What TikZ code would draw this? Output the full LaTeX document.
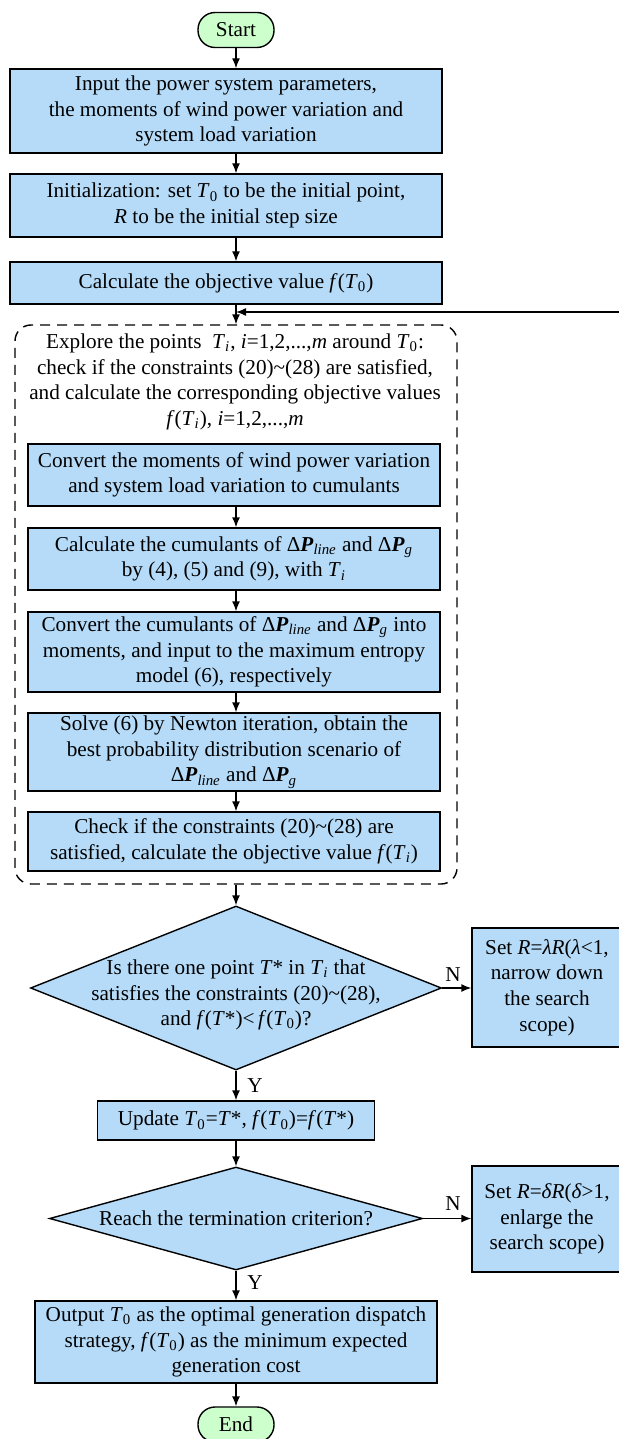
\documentclass[tikz,border=0pt]{standalone}
\usepackage{fontspec}
\setmainfont{Liberation Serif}
\usetikzlibrary{shapes.geometric,arrows.meta,calc}
\definecolor{boxblue}{RGB}{181,219,248}
\definecolor{termgreen}{RGB}{204,255,204}
\newcommand{\Ti}{\textit{T}\textsubscript{\textit{i}}}
\newcommand{\Tz}{\textit{T}\textsubscript{0}}
\newcommand{\dPl}{Δ\textbf{\textit{P}}\textsubscript{\textit{line}}}
\newcommand{\dPg}{Δ\textbf{\textit{P}}\textsubscript{\textit{g}}}
\begin{document}
\begin{tikzpicture}[x=0.5pt,y=-0.5pt,
  every node/.style={font=\fontsize{10.6}{12.8}\selectfont},
  proc/.style={draw, fill=boxblue, line width=0.7pt, align=center, inner sep=1pt},
  term/.style={draw, fill=termgreen, rounded corners=8.5pt, line width=0.7pt, minimum width=38pt, minimum height=17.5pt, inner sep=1pt},
  dec/.style={draw, fill=boxblue, diamond, line width=0.7pt, inner sep=0pt},
  arr/.style={-{Latex[length=5pt,width=4pt]}, line width=0.7pt},
  lbl/.style={inner sep=0pt, align=center}
]
\useasboundingbox (0,0) rectangle (619,1439);

\node[term] (start) at (236,30) {Start};
\node[proc, minimum width=216pt, minimum height=42pt] (inp) at (226,111) {Input the power system parameters,\\the moments of wind power variation and\\system load variation};
\node[proc, minimum width=216pt, minimum height=31.5pt] (init) at (226,205.5) {Initialization: set \Tz{} to be the initial point,\\\textit{R} to be the initial step size};
\node[proc, minimum width=216pt, minimum height=21pt] (obj) at (226,283) {Calculate the objective value \textit{f}(\Tz)};
\coordinate (fb) at (630,312);

\node[draw, rounded corners=8pt, line width=0.7pt, dash pattern=on 5pt off 3.5pt, minimum width=221pt, minimum height=279.5pt] (loop) at (236,604.5) {};
\node[lbl] (explore) at (235,382) {Explore the points\ \ \Ti, \textit{i}=1,2,...,\textit{m} around \Tz:\\check if the constraints (20)\textasciitilde(28) are satisfied,\\and calculate the corresponding objective values\\\textit{f}(\Ti), \textit{i}=1,2,...,\textit{m}};

\node[proc, minimum width=206pt, minimum height=31pt] (c1) at (234,475) {Convert the moments of wind power variation\\and system load variation to cumulants};
\node[proc, minimum width=206pt, minimum height=31pt] (c2) at (234,559) {Calculate the cumulants of \dPl{} and \dPg\\by (4), (5) and (9), with \Ti};
\node[proc, minimum width=206pt, minimum height=40pt] (c3) at (234,652) {Convert the cumulants of \dPl{} and \dPg{} into\\moments, and input to the maximum entropy\\model (6), respectively};
\node[proc, minimum width=206pt, minimum height=39pt] (c4) at (234,752) {Solve (6) by Newton iteration, obtain the\\best probability distribution scenario of\\\dPl{} and \dPg};
\node[proc, minimum width=206pt, minimum height=29.5pt] (c5) at (234,841.5) {Check if the constraints (20)\textasciitilde(28) are\\satisfied, calculate the objective value \textit{f}(\Ti)};

\node[dec, minimum width=205.5pt, minimum height=82pt] (d1) at (236,988) {};
\node[lbl] (d1t) at (236,995) {Is there one point \textit{T}* in \Ti{} that\\satisfies the constraints (20)\textasciitilde(28),\\and \textit{f}(\textit{T}*)<\,\textit{f}(\Tz)?};
\node[proc, minimum width=75pt, minimum height=59.5pt] (n1) at (547,987.5) {Set \textit{R}=\textit{λR}(\textit{λ}<1,\\narrow down\\the search\\scope)};

\node[proc, minimum width=138.5pt, minimum height=19.5pt] (upd) at (236,1120.5) {Update \Tz=\textit{T}*, \textit{f}(\Tz)=\textit{f}(\textit{T}*)};
\node[dec, minimum width=186.5pt, minimum height=51.5pt] (d2) at (236,1218.5) {};
\node[lbl] (d2t) at (236,1218.5) {Reach the termination criterion?};
\node[proc, minimum width=75pt, minimum height=53pt] (n2) at (547,1219) {Set \textit{R}=\textit{δR}(\textit{δ}>1,\\enlarge the\\search scope)};

\node[proc, minimum width=201pt, minimum height=41pt] (out) at (236,1342) {Output \Tz{} as the optimal generation dispatch\\strategy, \textit{f}(\Tz) as the minimum expected\\generation cost};
\node[term] (end) at (236,1424.5) {End};

\draw[arr] (start) -- (start |- inp.north);
\draw[arr] (inp.south -| start) -- (init.north -| start);
\draw[arr] (init.south -| start) -- (obj.north -| start);
\draw[arr] (obj.south -| start) -- (loop.north -| start);
\draw[arr] (fb) -- (fb -| start);
\draw[arr] (c1.south -| start) -- (c2.north -| start);
\draw[arr] (c2.south -| start) -- (c3.north -| start);
\draw[arr] (c3.south -| start) -- (c4.north -| start);
\draw[arr] (c4.south -| start) -- (c5.north -| start);
\draw[arr] (loop.south -| start) -- (d1.north);
\draw[arr] (d1.east) -- (d1.east -| n1.west);
\draw[arr] (d1.south) -- (upd.north);
\draw[arr] (upd.south) -- (d2.north);
\draw[arr] (d2.east) -- (d2.east -| n2.west);
\draw[arr] (d2.south) -- (out.north);
\draw[arr] (out.south) -- (end.north);

\node[lbl] (N1) at (453,975) {N};
\node[lbl] (Y1) at (255,1086) {Y};
\node[lbl] (N2) at (453,1204) {N};
\node[lbl] (Y2) at (255,1283) {Y};
\end{tikzpicture}
\end{document}
